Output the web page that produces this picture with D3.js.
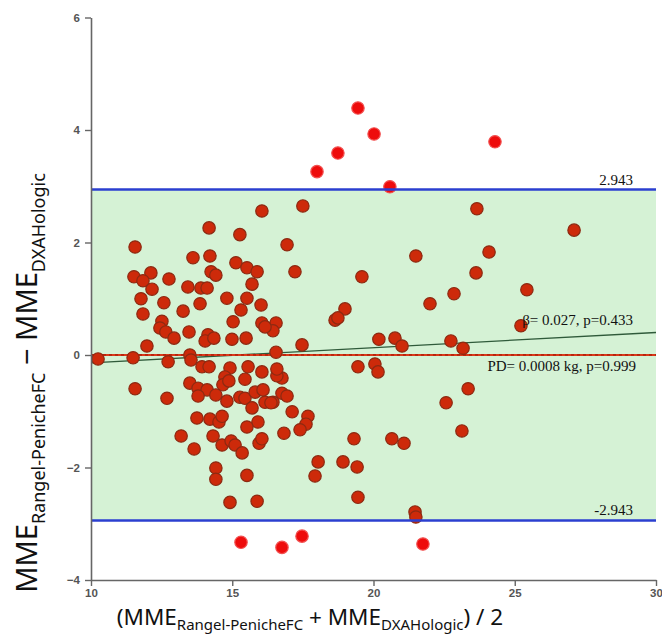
<!DOCTYPE html>
<html><head><meta charset="utf-8">
<script src="https://cdn.jsdelivr.net/npm/d3@7"></script>
<style>body{margin:0;background:#fff}svg{display:block}</style></head>
<body><svg id="c" width="662" height="636"></svg>
<script>
// Bland-Altman data: mean of the two methods (x) and their difference (y)
const meanX = [19.45,20.02,18.74,18.00,20.58,24.30,15.31,16.76,17.47,21.75,
 17.50,16.94,17.22,19.59,21.50,22.85,22.00,18.99,18.64,18.74,
 16.55,16.44,17.47,16.55,20.19,20.76,21.01,22.74,23.17,19.45,
 20.05,20.16,16.76,23.66,27.10,24.09,23.63,25.43,25.22,23.35,
 22.57,23.13,16.76,16.94,16.44,17.12,17.68,17.61,17.40,16.83,
 19.31,20.65,21.08,18.04,18.92,19.42,17.93,19.45,21.47,21.50,
 16.05,15.27,15.13,15.52,15.88,15.70,14.81,15.52,15.31,16.02,
 15.03,16.05,16.16,14.99,15.49,14.92,15.56,14.18,11.56,13.61,
 14.21,11.52,12.12,11.84,12.16,12.76,13.43,13.89,14.11,14.25,
 14.42,11.77,12.58,13.86,11.84,13.26,12.51,12.44,12.65,12.94,
 13.47,14.14,14.04,14.35,11.98,10.25,11.49,12.73,13.50,13.54,
 13.93,14.18,14.74,14.67,14.88,15.45,16.05,16.58,16.58,11.56,
 12.69,13.50,13.79,14.11,13.79,14.42,14.81,15.27,15.45,15.81,
 16.09,16.16,16.37,15.70,13.75,14.21,14.53,14.64,15.91,15.52,
 13.19,14.32,14.64,14.96,15.10,15.35,15.95,16.05,13.65,14.42,
 14.42,15.52,14.92,15.88];
const diffY = [4.39,3.93,3.59,3.26,2.99,3.79,-3.33,-3.42,-3.22,-3.36,
 2.65,1.96,1.48,1.39,1.76,1.09,0.91,0.82,0.62,0.66,
 0.57,0.43,0.18,0.05,0.28,0.30,0.16,0.25,0.12,-0.21,
 -0.16,-0.30,-0.41,2.60,2.22,1.83,1.46,1.16,0.52,-0.60,
 -0.85,-1.35,-0.68,-0.73,-0.84,-1.01,-1.09,-1.23,-1.33,-1.39,
 -1.49,-1.49,-1.57,-1.90,-1.90,-1.99,-2.15,-2.53,-2.79,-2.88,
 2.56,2.14,1.64,1.55,1.48,1.26,1.01,1.01,0.80,0.89,
 0.59,0.57,0.50,0.28,0.30,-0.23,-0.21,2.26,1.92,1.73,
 1.76,1.39,1.46,1.32,1.17,1.35,1.21,1.19,1.19,1.48,
 1.42,1.00,0.93,0.91,0.73,0.78,0.60,0.48,0.41,0.30,
 0.41,0.36,0.25,0.30,0.16,-0.07,-0.05,-0.12,0.00,-0.09,
 -0.21,-0.21,-0.39,-0.53,-0.46,-0.43,-0.30,-0.37,-0.25,-0.60,
 -0.77,-0.50,-0.59,-0.62,-0.73,-0.71,-0.82,-0.75,-0.77,-0.66,
 -0.62,-0.84,-0.85,-0.94,-1.12,-1.14,-1.19,-1.09,-1.19,-1.28,
 -1.44,-1.44,-1.60,-1.53,-1.60,-1.74,-1.57,-1.49,-1.67,-2.01,
 -2.21,-2.14,-2.62,-2.60];
const xTicks = [10, 15, 20, 25, 30];
const yTicks = [-4, -2, 0, 2, 4, 6];
const xDomain = [10, 30];
const yDomain = [-4, 6];
const meanDiff = 0.0008;
const upperLoA = 2.943;
const lowerLoA = -2.943;
const regSlope = 0.027;
const regIntercept = -0.41;
const upperLabel = "2.943";
const lowerLabel = "-2.943";
const regLabel = "\u03b2= 0.027, p=0.433";
const meanLabel = "PD= 0.0008 kg, p=0.999";

const svg = d3.select("#c");
const x = d3.scaleLinear().domain(xDomain).range([91, 656]);
const y = d3.scaleLinear().domain(yDomain).range([580, 17.5]);

// agreement band
svg.append("rect")
  .attr("x", x(xDomain[0])).attr("width", x(xDomain[1]) - x(xDomain[0]))
  .attr("y", y(upperLoA)).attr("height", y(lowerLoA) - y(upperLoA))
  .attr("fill", "#d5f2d5");

// regression line
svg.append("line")
  .attr("x1", x(xDomain[0])).attr("x2", x(xDomain[1]))
  .attr("y1", y(regIntercept + regSlope * xDomain[0]))
  .attr("y2", y(regIntercept + regSlope * xDomain[1]))
  .attr("stroke", "#2f5a3a").attr("stroke-width", 1.3);

// mean difference line
svg.append("line")
  .attr("x1", x(xDomain[0])).attr("x2", x(xDomain[1]))
  .attr("y1", y(meanDiff)).attr("y2", y(meanDiff))
  .attr("stroke", "#d83a1a").attr("stroke-width", 2);
svg.append("line")
  .attr("x1", x(xDomain[0])).attr("x2", x(xDomain[1]))
  .attr("y1", y(meanDiff)).attr("y2", y(meanDiff))
  .attr("stroke", "#a01000").attr("stroke-width", 1)
  .attr("stroke-dasharray", "3,3");

// points
const pts = meanX.map((m, i) => ({m, d: diffY[i]}));
svg.append("g").selectAll("circle").data(pts).join("circle")
  .attr("cx", p => x(p.m)).attr("cy", p => y(p.d)).attr("r", 6.2)
  .attr("fill", p => (p.d > upperLoA || p.d < lowerLoA) ? "#ee0c0c" : "#cd2a0a")
  .attr("stroke", p => (p.d > upperLoA || p.d < lowerLoA) ? "#f25050" : "#8c2a12")
  .attr("stroke-width", 1.2);

// limits of agreement
[upperLoA, lowerLoA].forEach(v => {
  svg.append("line")
    .attr("x1", x(xDomain[0])).attr("x2", x(xDomain[1]))
    .attr("y1", y(v)).attr("y2", y(v))
    .attr("stroke", "#2b3fd0").attr("stroke-width", 2.5);
});

// axes
const axisColor = "#666";
const xAxis = svg.append("g").attr("transform", `translate(0,${y(yDomain[0])})`)
  .call(d3.axisBottom(x).tickValues(xTicks).tickSize(6).tickSizeOuter(0).tickPadding(3));
const yAxis = svg.append("g").attr("transform", `translate(${x(xDomain[0])},0)`)
  .call(d3.axisLeft(y).tickValues(yTicks).tickSize(6).tickSizeOuter(0).tickPadding(5));
[xAxis, yAxis].forEach(a => {
  a.select(".domain").attr("stroke", axisColor).attr("stroke-width", 1.6);
  a.selectAll(".tick line").attr("stroke", axisColor).attr("stroke-width", 1.4);
  a.selectAll(".tick text").attr("fill", "#555").attr("font-size", 11.5)
    .attr("font-family", "Liberation Sans, Arial, sans-serif").attr("font-weight", "bold");
});

// annotations
const serif = "Liberation Serif, Times New Roman, serif";
function note(txt, xx, yy) {
  svg.append("text").attr("x", xx).attr("y", yy).attr("text-anchor", "end")
    .attr("font-family", serif).attr("font-size", 15).attr("fill", "#111").text(txt);
}
note(upperLabel, 633, y(upperLoA) - 4);
note(lowerLabel, 633, y(lowerLoA) - 6);
note(regLabel, 633, 325);
note(meanLabel, 636, 371);

// axis titles
const sans = "Noto Sans, Open Sans, sans-serif";
const xt = svg.append("text").attr("x", 310).attr("y", 625).attr("text-anchor", "middle")
  .attr("font-family", sans).attr("font-size", 22.5).attr("fill", "#111");
xt.append("tspan").text("(MME");
xt.append("tspan").attr("font-size", 15).attr("dy", 5).text("Rangel-PenicheFC");
xt.append("tspan").attr("dy", -5).text(" + MME");
xt.append("tspan").attr("font-size", 15).attr("dy", 5).text("DXAHologic");
xt.append("tspan").attr("dy", -5).text(") / 2");

const yt = svg.append("text").attr("transform", "translate(37,383) rotate(-90)")
  .attr("text-anchor", "middle")
  .attr("font-family", sans).attr("font-size", 29).attr("fill", "#111");
yt.append("tspan").text("MME");
yt.append("tspan").attr("font-size", 18).attr("dy", 8).text("Rangel-PenicheFC");
yt.append("tspan").attr("dy", -8).text(" \u2212 MME");
yt.append("tspan").attr("font-size", 18).attr("dy", 8).text("DXAHologic");
</script></body></html>
